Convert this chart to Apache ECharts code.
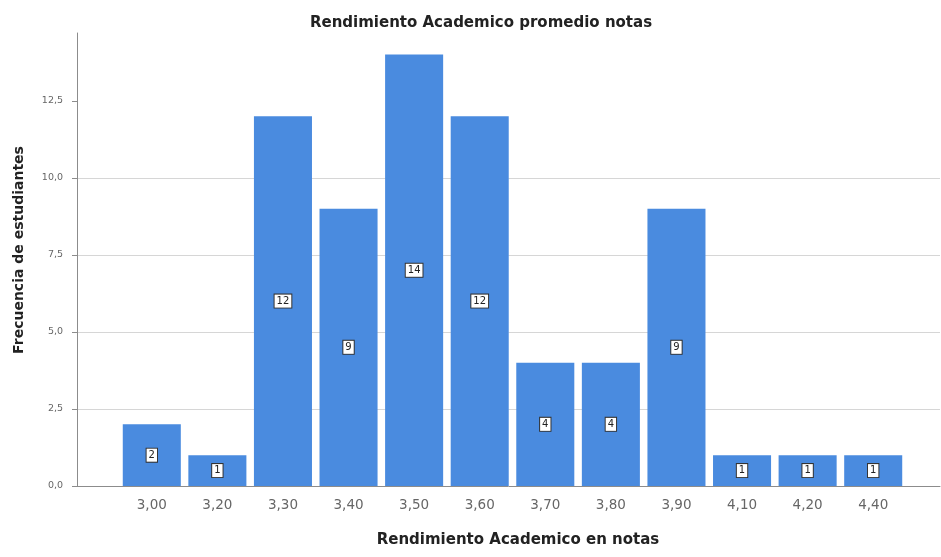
<!DOCTYPE html>
<html>
<head>
<meta charset="utf-8">
<script src="https://cdn.jsdelivr.net/npm/echarts@6/dist/echarts.min.js"></script>
<style>html,body{margin:0;padding:0;background:#fff}#c{width:941px;height:557px}</style>
</head>
<body>
<div id="c"></div>
<script>
var categories = ['3,00','3,20','3,30','3,40','3,50','3,60','3,70','3,80','3,90','4,10','4,20','4,40'];
var frequencies = [2, 1, 12, 9, 14, 12, 4, 4, 9, 1, 1, 1];
var yTicks = [0, 2.5, 5, 7.5, 10, 12.5];
var titleText = 'Rendimiento Academico promedio notas';
var xTitle = 'Rendimiento Academico en notas';
var yTitle = 'Frecuencia de estudiantes';

var chart = echarts.init(document.getElementById('c'), null, {renderer: 'canvas'});
var font = 'DejaVu Sans';
var fmt = function (v) { return yTicks.indexOf(v) >= 0 ? v.toFixed(1).replace('.', ',') : ''; };
chart.setOption({
  animation: false,
  backgroundColor: '#ffffff',
  title: [
    {text: titleText, left: 476, top: 11, textAlign: 'center',
     textStyle: {fontFamily: font, fontWeight: 'bold', fontSize: 15, color: '#222'}},
    {text: xTitle, left: 513, top: 528, textAlign: 'center',
     textStyle: {fontFamily: font, fontWeight: 'bold', fontSize: 15, color: '#222'}}
  ],
  graphic: [{
    type: 'text', rotation: Math.PI / 2,
    x: 12, y: 250,
    style: {text: yTitle, font: 'bold 14px "DejaVu Sans"', fill: '#222', align: 'center', verticalAlign: 'top'}
  }],
  grid: [
    {left: 77, right: 1, top: 33, bottom: 71},
    {left: 119, right: 35, top: 33, bottom: 71}
  ],
  xAxis: [
    {gridIndex: 0, type: 'value', min: 0, max: 1, axisLine: {show: true, lineStyle: {color: '#8c8c8c', width: 1}},
     axisTick: {show: false}, axisLabel: {show: false}, splitLine: {show: false}},
    {gridIndex: 1, type: 'category', data: categories, axisLine: {show: false}, axisTick: {show: false},
     axisLabel: {fontFamily: font, fontSize: 13.5, color: '#666', margin: 12}}
  ],
  yAxis: [
    {gridIndex: 0, type: 'value', min: 0, max: 14.7, interval: 2.5,
     axisLine: {show: true, lineStyle: {color: '#8c8c8c', width: 1}},
     axisTick: {show: true, length: 5, customValues: yTicks, lineStyle: {color: '#8c8c8c'}},
     axisLabel: {fontFamily: font, fontSize: 9.5, color: '#666', margin: 14, customValues: yTicks, formatter: fmt},
     splitLine: {show: true, showMinLine: false, showMaxLine: false, lineStyle: {color: '#d6d6d6', width: 1}}},
    {gridIndex: 1, type: 'value', min: 0, max: 14.7, show: false, splitLine: {show: false}}
  ],
  series: [{
    type: 'bar', xAxisIndex: 1, yAxisIndex: 1, data: frequencies,
    barCategoryGap: '11.5%',
    itemStyle: {color: '#4A8BDF'},
    z: 3,
    label: {show: true, position: 'inside', fontFamily: font, fontSize: 10, color: '#222',
      backgroundColor: '#fff', borderColor: '#333', borderWidth: 1, padding: [2, 2, 1, 2]}
  }]
});
</script>
</body>
</html>
